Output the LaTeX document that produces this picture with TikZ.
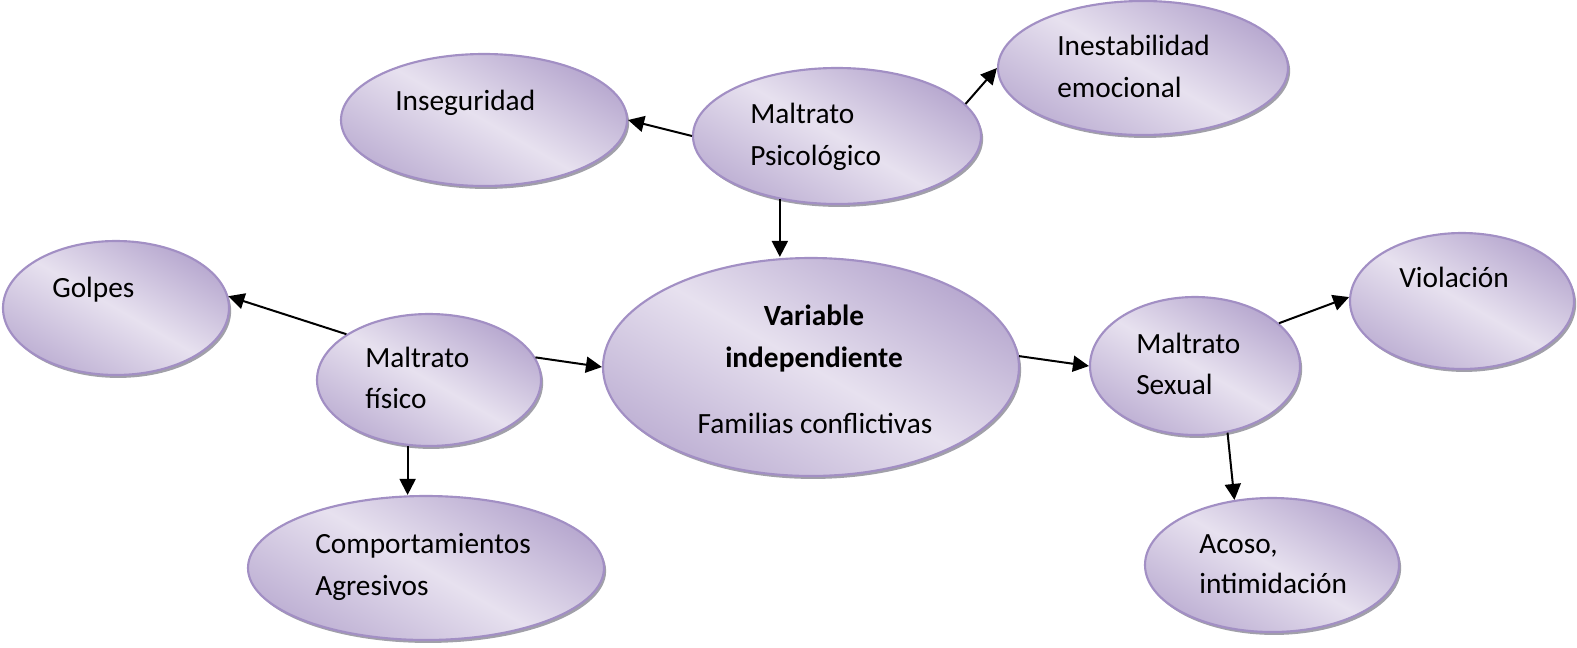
\documentclass[tikz,border=0pt]{standalone}
\usepackage{fontspec}
\setmainfont{Carlito}
\usetikzlibrary{arrows.meta,shapes.geometric,shadows,calc}
\definecolor{bubdark}{RGB}{183,168,207}
\definecolor{bublight}{RGB}{231,225,239}
\definecolor{bubline}{RGB}{162,143,196}
\definecolor{bubshadow}{RGB}{130,128,140}
\begin{document}
\begin{tikzpicture}[x=0.75pt,y=-0.75pt,
  bub/.style={ellipse, draw=bubline, line width=1.6pt, inner sep=0pt,
    top color=bubdark, bottom color=bubdark!85!bublight, middle color=bublight, shading angle=-30,
    drop shadow={shadow xshift=1.6pt, shadow yshift=-2.2pt, fill=bubshadow, opacity=0.75}},
  sz/.style 2 args={minimum width=#1*1.5pt, minimum height=#2*1.5pt},
  txt/.style={anchor=base west, inner sep=0pt, font=\fontsize{22}{30}\selectfont},
  ctxt/.style={anchor=base, inner sep=0pt, font=\fontsize{22}{30}\selectfont},
  arr/.style={-{Triangle[length=12pt,width=12pt]}, line width=1.5pt, black}]
\useasboundingbox (0,0) rectangle (1577,647);
% bubbles
\node[bub, sz={143}{66}] (ins) at (484,120) {};
\node[bub, sz={144}{68}] (psi) at (837,136) {};
\node[bub, sz={145}{67}] (ine) at (1143,68) {};
\node[bub, sz={113}{67}] (gol) at (116,308) {};
\node[bub, sz={112}{66}] (fis) at (429,380) {};
\node[bub, sz={208}{109}] (var) at (811,367) {};
\node[bub, sz={105}{69}] (sex) at (1195,366) {};
\node[bub, sz={112}{68}] (vio) at (1462,301) {};
\node[bub, sz={178}{72}] (com) at (426,568) {};
\node[bub, sz={127}{67}] (aco) at (1272,565) {};
% texts
\node[txt] (tins) at (395,110) {Inseguridad};
\node[txt] (tpsi1) at (750,123) {Maltrato};
\node[txt] (tpsi2) at (750,165) {Psicológico};
\node[txt] (tine1) at (1057,55) {Inestabilidad};
\node[txt] (tine2) at (1057,97) {emocional};
\node[txt] (tgol) at (52,297) {Golpes};
\node[txt] (tfis1) at (365,367) {Maltrato};
\node[txt] (tfis2) at (365,408) {físico};
\node[ctxt, font=\fontsize{22}{30}\selectfont\bfseries] (tvar1) at (814,325) {Variable};
\node[ctxt, font=\fontsize{22}{30}\selectfont\bfseries] (tvar2) at (814,367) {independiente};
\node[ctxt] (tvar3) at (815,433) {Familias conflictivas};
\node[txt] (tsex1) at (1136,353) {Maltrato};
\node[txt] (tsex2) at (1136,394) {Sexual};
\node[txt] (tvio) at (1399,287) {Violación};
\node[txt] (tcom1) at (315,553) {Comportamientos};
\node[txt] (tcom2) at (315,595) {Agresivos};
\node[txt] (taco1) at (1199,553) {Acoso,};
\node[txt] (taco2) at (1199,593) {intimidación};
% connectors
\draw[arr] (psi.west) -- (ins.east);
\draw[arr] (psi.14) -- (ine.west);
\draw[arr] (psi.228) -- (psi.228 |- var.north);
\draw[arr] (fis.151) -- (gol.6);
\draw[arr] (fis.12) -- (var.west);
\draw[arr] (fis.252) -- (fis.252 |- com.north);
\draw[arr] (var.3) -- (sex.west);
\draw[arr] (sex.27) -- (vio.178);
\draw[arr] (sex.296) -- (aco.120);
\end{tikzpicture}
\end{document}
